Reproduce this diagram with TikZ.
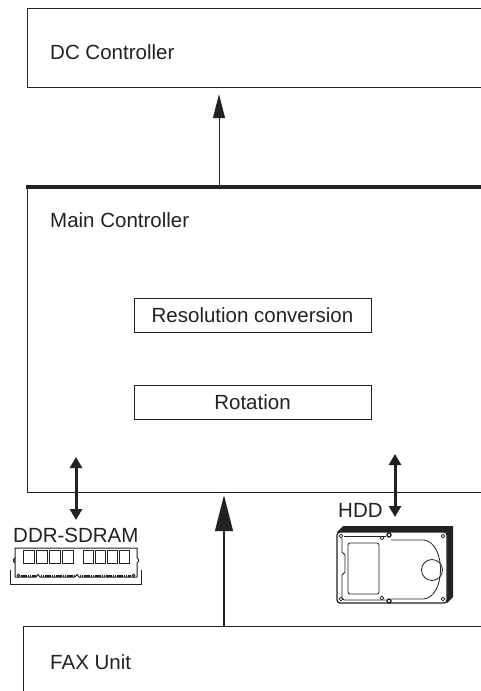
\documentclass[tikz,border=0pt]{standalone}
\usepackage{fontspec}
\setmainfont{Liberation Sans}
\usetikzlibrary{arrows.meta}
\definecolor{ink}{HTML}{222222}
\newcommand\lblfont{\fontsize{20.5}{24}\selectfont}
\begin{document}
\begin{tikzpicture}[x=1pt,y=-1pt,
  box/.style={draw=ink, line width=1.2pt, inner sep=0pt, anchor=north west, minimum width=500pt},
  sub/.style={draw=ink, line width=1pt, inner sep=0pt, minimum width=237pt, minimum height=34pt, font=\lblfont, text=ink},
  lbl/.style={anchor=base west, inner sep=0pt, font=\lblfont, text=ink},
  flow/.style={draw=ink, line width=1pt},
  dbl/.style={draw=ink, line width=3pt, {Triangle[width=12pt,length=11pt]}-{Triangle[width=12pt,length=11pt]}},
  part/.style={draw=ink, line width=0.8pt}
]
\useasboundingbox (0,0) rectangle (480,691);
\fill[white] (0,0) rectangle (480,691);

% --- blocks (they run past the right edge of the page) ---
\node[box, minimum height=79pt]  (dc)   at (27,8)   {};
\node[box, minimum height=305pt] (main) at (27,187) {};
\node[box, minimum height=100pt] (fax)  at (23,626) {};
\draw[ink, line width=4pt] ([xshift=-0.6pt]main.north west) -- (main.north east);

\node[lbl] (dcl)   at (50,59)  {DC Controller};
\node[lbl] (mainl) at (50,227) {Main Controller};
\node[lbl] (faxl)  at (50,669) {FAX Unit};

\node[sub] (res) at (252.5,315) {Resolution conversion};
\node[sub] (rot) at (252.5,402) {Rotation};

% --- data paths ---
\coordinate (xa) at (219,0);
\coordinate (xb) at (224,0);
\draw[flow, -{Triangle[width=12pt,length=24pt]}, shorten >=6pt]
  (main.north west -| xa) -- (dc.south west -| xa);
\draw[flow, line width=1.3pt, -{Triangle[width=18pt,length=36pt]}, shorten >=2pt]
  (fax.north west -| xb) -- (main.south west -| xb);

\coordinate (memtop) at (76,457);
\coordinate (memend) at (76,520);
\coordinate (hddtop) at (395,454);
\coordinate (hddend) at (395,517);
\draw[dbl] (memtop) -- (memend);
\draw[dbl] (hddtop) -- (hddend);

\node[lbl] (ddrl) at (13,542) {DDR-SDRAM};
\node[lbl] (hddl) at (338,517) {HDD};

% --- memory module ---
\draw[part, line width=1pt] (15,577) -- (15,558) -- (13.5,559.5) -- (13.5,561.5) -- (15,563) -- (15,577);
\draw[part, line width=1pt] (15,558) -- (15,548) -- (137,548) -- (137,558) -- (138.5,559.5) -- (138.5,561.5) -- (137,563) -- (137,577);
\draw[part, line width=1pt] (15,577) -- (36,577) -- (38,574.5) -- (40,577) -- (75,577) -- (77,574.5) -- (79,577) -- (137,577);
\draw[ink, line width=2pt, dash pattern=on 1.6pt off 0.6pt] (21,575.5) -- (35.5,575.5);
\draw[ink, line width=2pt, dash pattern=on 1.6pt off 0.6pt] (40.5,575.5) -- (74.5,575.5);
\draw[ink, line width=2pt, dash pattern=on 1.6pt off 0.6pt] (79.5,575.5) -- (131,575.5);
\draw[part] (18.5,575.5) circle (1.2);
\draw[part] (133.5,575.5) circle (1.2);
\foreach \x in {23,36,49,62} \draw[part, line width=1pt] (\x,550) rectangle ++(11,13);
\foreach \x in {83,95,107,119} \draw[part, line width=1pt] (\x,550) rectangle ++(10,13);
\draw[part, line width=1pt] (10.5,570) -- (10.5,584) -- (141.5,584) -- (141.5,570);

% --- hard disk ---
\fill[ink] (337,532) -- (343,526) -- (453,526) -- (453,597) -- (447,603) -- (447,532) -- cycle;
\draw[ink, line width=1.3pt, rounded corners=3pt, fill=white] (337,532) rectangle (447,603);
\draw[part] (342,538) -- (342,552) -- (345,555) -- (345,572) -- (342,575) -- (342,598)
  -- (344,600) -- (386,600);
\draw[part] (344,536) -- (386,536);
\draw[part] (391,540) -- (424,540) .. controls (446,543) and (446,596) .. (424,599) -- (391,599);
\draw[part, rounded corners=2pt] (348,543) rectangle (379,594);
\foreach \p in {(341,536),(443,536),(341,599),(443,599),(382,538),(382,598)}
  \draw[part, line width=0.7pt] \p circle (1.8);
\draw[ink, line width=1.4pt] (389,535) circle (2);
\draw[ink, line width=1.4pt] (389,601) circle (2);
\draw[part] (432,570) circle (10.5);
\end{tikzpicture}
\end{document}
